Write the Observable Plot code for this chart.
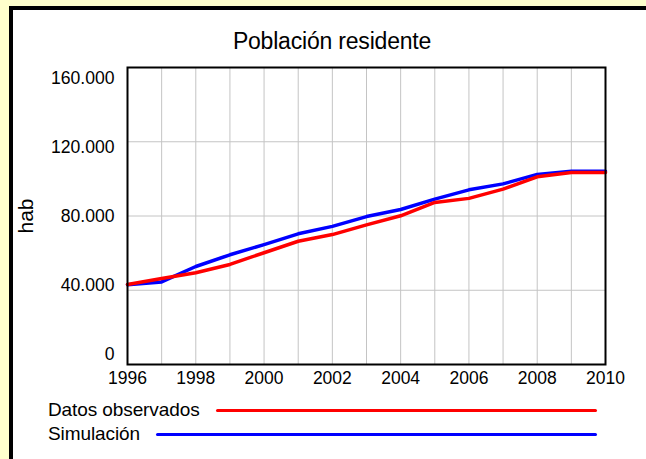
<!DOCTYPE html>
<html><head><meta charset="utf-8">
<script src="https://cdn.jsdelivr.net/npm/d3@7"></script>
<script src="https://cdn.jsdelivr.net/npm/@observablehq/plot@0.6"></script>
<style>
html,body{margin:0;padding:0;}
body{width:646px;height:459px;background:#ffffcc;position:relative;overflow:hidden;font-family:"Liberation Sans",Arial,sans-serif;color:#000;}
#panel{position:absolute;left:9px;top:6px;right:0;bottom:0;background:#fff;border-left:4px solid #000;border-top:4px solid #000;}
#title{position:absolute;left:13px;width:638px;top:28px;text-align:center;font-size:23px;line-height:26px;letter-spacing:-0.2px;}
#chart{position:absolute;left:13px;top:55px;}
.leg{position:absolute;left:48px;width:549px;display:flex;align-items:center;font-size:19px;line-height:22px;letter-spacing:-0.1px;}
.leg .ln{flex:1;height:3px;margin-left:16px;border-radius:2px;}
</style></head>
<body>
<div id="panel"></div>
<div id="title">Población residente</div>
<div id="chart"></div>
<div class="leg" id="leg1" style="top:399px"><span>Datos observados</span><span class="ln" style="background:#ff0000"></span></div>
<div class="leg" id="leg2" style="top:423px"><span>Simulación</span><span class="ln" style="background:#0000ff"></span></div>
<script>
const years = [1996,1997,1998,1999,2000,2001,2002,2003,2004,2005,2006,2007,2008,2009,2010];
const observados = [43100,46300,49400,53900,60200,66400,70000,75200,80100,87300,89500,94500,101100,103400,103400];
const simulacion = [43000,44500,52800,59100,64600,70400,74400,79700,83500,89100,94100,97300,102400,104100,104100];
const xTicks = [1996,1998,2000,2002,2004,2006,2008,2010];
const yTicks = [0,40000,80000,120000,160000];

const rows = (vals, serie) => years.map((yr, i) => ({year: yr, value: vals[i], serie}));
const dataSim = rows(simulacion, "Simulación");
const dataObs = rows(observados, "Datos observados");

const fmt = d3.formatLocale({decimal: ",", thousands: ".", grouping: [3], currency: ["", ""]}).format(",");
const font = "'Liberation Sans', Arial, sans-serif";

const chart = Plot.plot({
  width: 633, height: 340,
  marginLeft: 114, marginRight: 41, marginTop: 12, marginBottom: 31,
  style: {fontFamily: font, fontSize: "17px", color: "#000", background: "transparent", overflow: "visible"},
  x: {domain: [1996, 2010]},
  y: {domain: [0, 160000]},
  marks: [
    Plot.gridX(years, {stroke: "#c4c4c4", strokeOpacity: 1, strokeWidth: 1}),
    Plot.gridY(yTicks, {stroke: "#c4c4c4", strokeOpacity: 1, strokeWidth: 1}),
    Plot.axisX(xTicks, {tickSize: 0, tickPadding: 7, tickFormat: d => String(d), fontSize: 17.5, label: null}),
    ...yTicks.map(v => Plot.axisY([v], {tickSize: 0, tickPadding: 13, tickFormat: fmt, fontSize: 17.6, dy: -10 + 21 * v / 160000, label: null})),
    Plot.axisY([], {label: "hab", labelAnchor: "center", labelOffset: 109, labelArrow: "none", fontSize: 21}),
    Plot.line(dataSim, {x: "year", y: "value", stroke: "#0000ff", strokeWidth: 3.5}),
    Plot.line(dataObs, {x: "year", y: "value", stroke: "#ff0000", strokeWidth: 3.5}),
    Plot.frame({stroke: "#000", strokeWidth: 2})
  ]
});
d3.select(chart).selectAll("text").filter(function() { return this.textContent.trim() === "hab"; })
  .style("font-size", "21px");
d3.select(chart).selectAll("g").filter(function() { return this.textContent.trim() === "hab"; })
  .attr("font-size", 21);
document.getElementById("chart").append(chart);
</script>
</body></html>
